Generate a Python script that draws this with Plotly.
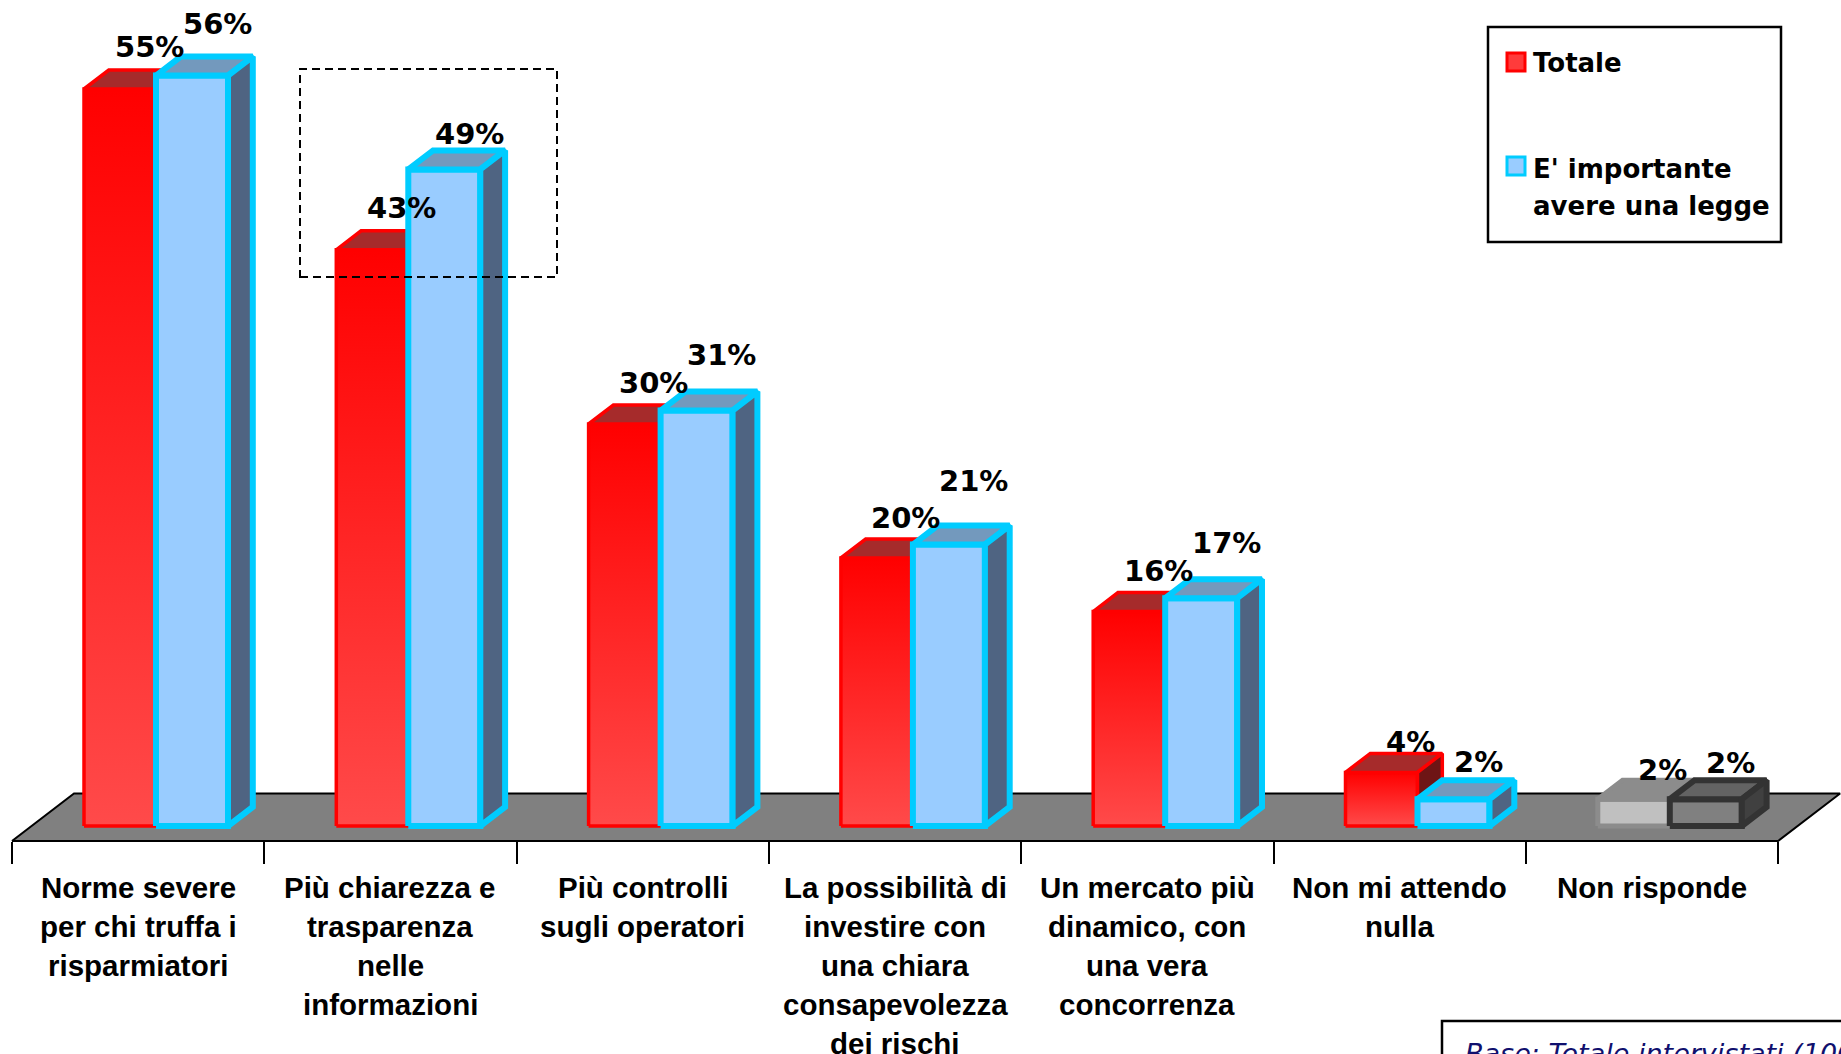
import plotly.graph_objects as go

# ---------------- data ----------------
category_lines = [
    ["Norme severe", "per chi truffa i", "risparmiatori"],
    ["Più chiarezza e", "trasparenza", "nelle", "informazioni"],
    ["Più controlli", "sugli operatori"],
    ["La possibilità di", "investire con", "una chiara", "consapevolezza", "dei rischi"],
    ["Un mercato più", "dinamico, con", "una vera", "concorrenza"],
    ["Non mi attendo", "nulla"],
    ["Non risponde"],
]
totale = [55, 43, 30, 20, 16, 4, 2]
importante = [56, 49, 31, 21, 17, 2, 2]
series_names = ["Totale", "E' importante avere una legge"]
legend_lines = [["Totale"], ["E' importante", "avere una legge"]]
no_answer = "Non risponde"
base_note = "Base: Totale intervistati (1000 casi)"

# label lift above each bar top, in pixels
label_lift_totale = [42, 42, 41, 40, 41, 30, 29]
label_lift_importante = [52, 35, 56, 64, 55, 37, 36]

# ---------------- geometry ----------------
W, H = 1841, 1054
PX_CAT = 252.3          # pixels per category
PX_PCT = 13.4           # pixels per percentage point
FLOOR_LEFT_PX = 12
BASE_PX = 826
FLOOR_FRONT_PX = 841

x_min = -0.5 - FLOOR_LEFT_PX / PX_CAT
x_max = x_min + W / PX_CAT
y_max = BASE_PX / PX_PCT
y_min = y_max - H / PX_PCT

floor_y = -(FLOOR_FRONT_PX - BASE_PX) / PX_PCT
floor_dx, floor_dy = 62 / PX_CAT, 47.5 / PX_PCT
plane_dx = 19.6 / PX_CAT
depth_dx, depth_dy = 24.8 / PX_CAT, 19 / PX_PCT
bar_w = 72 / PX_CAT
pair_shift = -1.75 / PX_CAT


def px_x(px):
    return px / W


def px_y(py):
    return 1 - py / H


# ---------------- styles ----------------
red = dict(front="#FF2020", grad=[[0, "#FF4A4A"], [1, "#FF0000"]], top="#A62B2B",
           side="#6E1515", line="#FF0000", lw=3.5)
blue = dict(front="#99CCFF", grad=None, top="#7399BD", side="#4F6482",
            line="#00CCFF", lw=6)
gray_light = dict(front="#C0C0C0", grad=None, top="#8C8C8C", side="#6E6E6E",
                  line="#8C8C8C", lw=5)
gray_dark = dict(front="#808080", grad=None, top="#636363", side="#404040",
                 line="#333333", lw=6)

fig = go.Figure()


def face(xs, ys, fill, line, lw, grad=None):
    tr = go.Scatter(
        x=xs + [xs[0]], y=ys + [ys[0]], mode="lines", fill="toself",
        fillcolor=fill, line=dict(color=line, width=lw),
        hoverinfo="skip", showlegend=False,
    )
    if grad:
        tr.fillgradient = dict(type="vertical", colorscale=grad)
    fig.add_trace(tr)


def box3d(x0, v, st):
    x1 = x0 + bar_w
    # front
    face([x0, x1, x1, x0], [0, 0, v, v], st["front"], st["line"], st["lw"], st["grad"])
    # top
    face([x0, x1, x1 + depth_dx, x0 + depth_dx],
         [v, v, v + depth_dy, v + depth_dy], st["top"], st["line"], st["lw"])
    # right side
    face([x1, x1 + depth_dx, x1 + depth_dx, x1],
         [0, depth_dy, v + depth_dy, v], st["side"], st["line"], st["lw"])


# floor
n = len(category_lines)
face([-0.5, n - 0.5, n - 0.5 + floor_dx, -0.5 + floor_dx],
     [floor_y, floor_y, floor_y + floor_dy, floor_y + floor_dy],
     "#808080", "#000000", 2)

annotations = []
label_font = dict(family="DejaVu Sans, Verdana, sans-serif", size=29, color="#000000", weight="bold")

for i, lines in enumerate(category_lines):
    muted = " ".join(lines) == no_answer
    centre = i + plane_dx + pair_shift
    x_red = centre - bar_w
    x_blue = centre
    st_a = gray_light if muted else red
    st_b = gray_dark if muted else blue
    box3d(x_red, totale[i], st_a)
    box3d(x_blue, importante[i], st_b)

    annotations.append(dict(
        x=x_red + bar_w / 2 + 29 / PX_CAT, y=totale[i] + label_lift_totale[i] / PX_PCT,
        xref="x", yref="y", text=f"{totale[i]}%", showarrow=False,
        xanchor="center", yanchor="middle", font=label_font))
    annotations.append(dict(
        x=x_blue + bar_w / 2 + 25 / PX_CAT, y=importante[i] + label_lift_importante[i] / PX_PCT,
        xref="x", yref="y", text=f"{importante[i]}%", showarrow=False,
        xanchor="center", yanchor="middle", font=label_font))

    # category label, one line at a time
    for j, line in enumerate(lines):
        baseline = 897 + 39 * j
        annotations.append(dict(
            x=i, y=px_y(baseline - 10), xref="x", yref="paper", text=line,
            showarrow=False, xanchor="center", yanchor="middle",
            font=dict(family="Liberation Sans, Arial, sans-serif", size=29.5,
                      color="#000000", weight="bold")))

# legend
shapes = [
    dict(type="rect", xref="paper", yref="paper", x0=px_x(1488), x1=px_x(1781),
         y0=px_y(242), y1=px_y(27), line=dict(color="#000000", width=2.5),
         fillcolor="#FFFFFF", layer="below"),
    dict(type="rect", xref="paper", yref="paper", x0=px_x(1507), x1=px_x(1525),
         y0=px_y(71), y1=px_y(53), line=dict(color=red["line"], width=3),
         fillcolor="#FF3B3B"),
    dict(type="rect", xref="paper", yref="paper", x0=px_x(1507), x1=px_x(1525),
         y0=px_y(175), y1=px_y(157), line=dict(color=blue["line"], width=3),
         fillcolor=blue["front"]),
    # highlight around the second category
    dict(type="rect", xref="paper", yref="paper", x0=px_x(300), x1=px_x(557),
         y0=px_y(277), y1=px_y(69), line=dict(color="#000000", width=2, dash="8px,5px")),
    # base note frame
    dict(type="rect", xref="paper", yref="paper", x0=px_x(1442), x1=px_x(1900),
         y0=px_y(1100), y1=px_y(1021), line=dict(color="#000000", width=2.5)),
]

legend_font = dict(family="DejaVu Sans, Verdana, sans-serif", size=26, color="#000000", weight="bold")
legend_baselines = [[72], [178, 215]]
for lines, bases in zip(legend_lines, legend_baselines):
    for line, b in zip(lines, bases):
        annotations.append(dict(
            x=px_x(1531), y=px_y(b - 9.3), xref="paper", yref="paper", text=line,
            showarrow=False, xanchor="left", yanchor="middle", font=legend_font))

annotations.append(dict(
    x=px_x(1463), y=px_y(1053), xref="paper", yref="paper", text=base_note,
    showarrow=False, xanchor="left", yanchor="middle",
    font=dict(family="DejaVu Sans, Verdana, sans-serif", size=27, color="#10106E", style="italic")))

fig.update_layout(
    width=W, height=H, autosize=False,
    margin=dict(l=0, r=0, t=0, b=0),
    paper_bgcolor="#FFFFFF", plot_bgcolor="#FFFFFF",
    showlegend=False,
    xaxis=dict(
        range=[x_min, x_max], showgrid=False, zeroline=False, showline=False,
        tickmode="array", tickvals=[k - 0.5 for k in range(n + 1)],
        ticks="outside", ticklen=22, tickwidth=2, tickcolor="#000000",
        showticklabels=False, anchor="free",
        position=(floor_y - y_min) / (y_max - y_min),
    ),
    yaxis=dict(range=[y_min, y_max], visible=False, domain=[0, 1]),
    annotations=annotations,
    shapes=shapes,
)

fig.write_html("out.html")
